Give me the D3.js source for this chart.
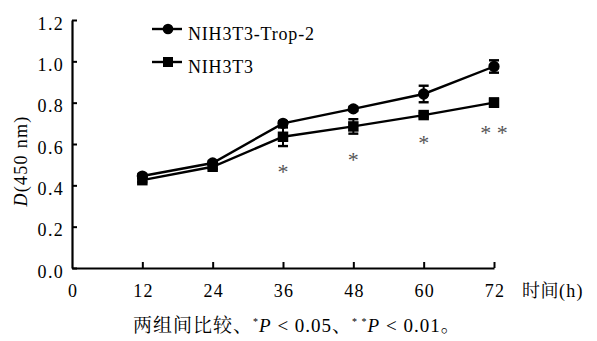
<!DOCTYPE html>
<html>
<head>
<meta charset="utf-8">
<script src="https://cdn.jsdelivr.net/npm/d3@7"></script>
<style>
body { margin: 0; background: #fff; }
svg text { font-family: "Liberation Serif", "Times New Roman", serif; letter-spacing: 1.3px; }
svg .cjk { font-family: "Noto Serif CJK SC", "Noto Sans CJK SC", serif; letter-spacing: 0.5px; }
</style>
</head>
<body>
<svg width="597" height="341"></svg>
<script>
var hours = [12, 24, 36, 48, 60, 72];
var trop2 = [0.445, 0.508, 0.70, 0.77, 0.842, 0.975];
var trop2Err = [0.01, 0.01, 0.01, 0.01, 0.04, 0.03];
var ctrl = [0.425, 0.49, 0.635, 0.685, 0.74, 0.80];
var ctrlErr = [0.01, 0.01, 0.045, 0.035, 0.01, 0.02];
var stars = ["", "", "*", "*", "*", "* *"];
var yTicks = [0, 0.2, 0.4, 0.6, 0.8, 1.0, 1.2];
var xTicks = [0, 12, 24, 36, 48, 60, 72];
var seriesNames = ["NIH3T3-Trop-2", "NIH3T3"];

var svg = d3.select("svg");
var x = d3.scaleLinear().domain([0, 72]).range([72, 494]);
var y = d3.scaleLinear().domain([0, 1.2]).range([268, 20]);

// axes
var yAxis = svg.append("g").attr("transform", "translate(72,0)")
	.call(d3.axisLeft(y).tickValues(yTicks).tickFormat(d3.format(".1f")).tickSize(6).tickSizeOuter(0));
var xAxis = svg.append("g").attr("transform", "translate(0,268)")
	.call(d3.axisBottom(x).tickValues(xTicks).tickSize(-6).tickSizeOuter(0).tickPadding(16));
[yAxis, xAxis].forEach(function (g) {
	g.attr("font-family", null);
	g.select(".domain").attr("stroke", "#000").attr("stroke-width", 2.2);
	g.selectAll(".tick line").attr("stroke", "#000").attr("stroke-width", 2);
	g.selectAll(".tick text").attr("fill", "#000").style("font-size", "18px");
});
yAxis.selectAll(".tick text").attr("x", -8).attr("dy", "0.5em");
yAxis.selectAll(".tick line").attr("x1", 0).attr("x2", 5);
xAxis.selectAll(".tick text").attr("dx", "0.6px");
xAxis.selectAll(".tick").filter(function (d) { return d === 0; }).select("line").remove();

function drawSeries(vals, errs, shape) {
	var pts = hours.map(function (h, i) { return { h: h, v: vals[i], e: errs[i] }; });
	svg.append("path").datum(pts)
		.attr("fill", "none").attr("stroke", "#000").attr("stroke-width", 2.4)
		.attr("d", d3.line().x(function (d) { return x(d.h); }).y(function (d) { return y(d.v); }));
	var eb = svg.append("g").selectAll("g").data(pts).enter().append("g");
	eb.append("line")
		.attr("x1", function (d) { return x(d.h); }).attr("x2", function (d) { return x(d.h); })
		.attr("y1", function (d) { return y(d.v + d.e); }).attr("y2", function (d) { return y(d.v - d.e); })
		.attr("stroke", "#000").attr("stroke-width", 2);
	[1, -1].forEach(function (s) {
		eb.append("line")
			.attr("x1", function (d) { return x(d.h) - 5; }).attr("x2", function (d) { return x(d.h) + 5; })
			.attr("y1", function (d) { return y(d.v + s * d.e); }).attr("y2", function (d) { return y(d.v + s * d.e); })
			.attr("stroke", "#000").attr("stroke-width", 2.4);
	});
	svg.append("g").selectAll("path").data(pts).enter().append("path")
		.attr("transform", function (d) { return "translate(" + x(d.h) + "," + y(d.v) + ")"; })
		.attr("d", d3.symbol().type(shape).size(shape === d3.symbolCircle ? 100 : 110))
		.attr("fill", "#000");
}
drawSeries(trop2, trop2Err, d3.symbolCircle);
drawSeries(ctrl, ctrlErr, d3.symbolSquare);

// significance marks
svg.append("g").selectAll("text").data(hours.map(function (h, i) { return { h: h, s: stars[i], v: ctrl[i] - ctrlErr[i] }; }))
	.enter().append("text")
	.attr("x", function (d) { return x(d.h); })
	.attr("y", function (d) { return y(d.v) + 33; })
	.attr("text-anchor", "middle")
	.attr("fill", "#555")
	.style("font-size", "22px")
	.style("letter-spacing", "0px")
	.text(function (d) { return d.s; });

// legend
var legend = svg.append("g");
seriesNames.forEach(function (name, i) {
	var ly = 29 + i * 33;
	legend.append("line").attr("x1", 152).attr("x2", 182).attr("y1", ly).attr("y2", ly)
		.attr("stroke", "#000").attr("stroke-width", 2.4);
	legend.append("path").attr("transform", "translate(168," + ly + ")")
		.attr("d", d3.symbol().type(i === 0 ? d3.symbolCircle : d3.symbolSquare).size(i === 0 ? 90 : 100))
		.attr("fill", "#000");
	legend.append("text").attr("x", 188).attr("y", ly + 11).style("font-size", "18px")
		.style("letter-spacing", "0.8px").text(name);
});

// y label
var yl = svg.append("text").attr("transform", "translate(27,161) rotate(-90)")
	.attr("text-anchor", "middle").style("font-size", "18px");
yl.append("tspan").style("font-style", "italic").text("D");
yl.append("tspan").text("(450 nm)");

// x label
var xl = svg.append("text").attr("x", 522).attr("y", 297).style("font-size", "18px");
xl.append("tspan").attr("class", "cjk").text("时间");
xl.append("tspan").text("(h)");

// caption
var cap = svg.append("text").attr("x", 133).attr("y", 332)
	.style("font-size", "19px").style("letter-spacing", "1px");
cap.append("tspan").attr("class", "cjk").style("letter-spacing", "1px").text("两组间比较、");
cap.append("tspan").attr("dy", -7).style("font-size", "10px").text("*");
cap.append("tspan").attr("dy", 7).style("font-style", "italic").text("P");
cap.append("tspan").text(" < 0.05");
cap.append("tspan").attr("class", "cjk").style("letter-spacing", "1px").text("、");
cap.append("tspan").attr("dy", -7).style("font-size", "10px").text("* *");
cap.append("tspan").attr("dy", 7).style("font-style", "italic").text("P");
cap.append("tspan").text(" < 0.01");
cap.append("tspan").attr("class", "cjk").style("letter-spacing", "1px").text("。");
</script>
</body>
</html>
